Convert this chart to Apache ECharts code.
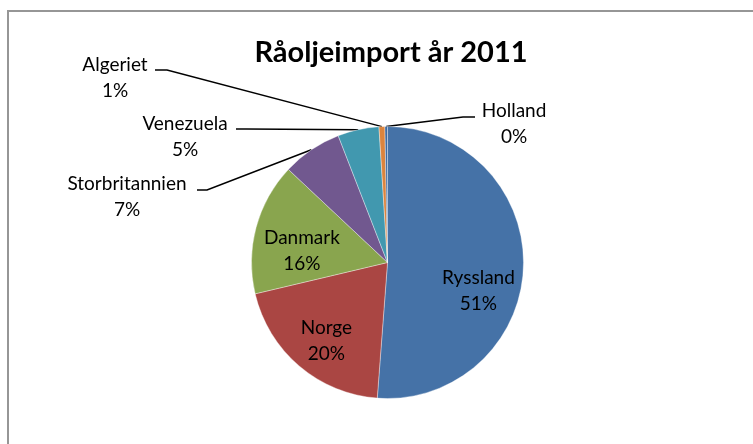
<!DOCTYPE html>
<html>
<head>
<meta charset="utf-8">
<script src="https://cdn.jsdelivr.net/npm/echarts@6/dist/echarts.min.js"></script>
<style>
  html, body { margin: 0; padding: 0; background: #fff; }
  #frame { position: absolute; left: 7px; top: 10px; width: 800px; height: 500px;
           border: 2px solid #969696; box-sizing: border-box; }
  #chart { position: absolute; left: 0; top: 0; width: 753px; height: 444px; }
</style>
</head>
<body>
<div id="frame"></div>
<div id="chart"></div>
<script>
// Råoljeimport 2011, andelar i procent
const countries = ['Ryssland', 'Norge', 'Danmark', 'Storbritannien', 'Venezuela', 'Algeriet', 'Holland'];
const shares = [51.2, 20.1, 15.7, 7.1, 4.9, 0.7, 0.3];
const colors = ['#4572A7', '#AA4643', '#89A54E', '#71588F', '#4198AF', '#DB843D', '#3D6AA0'];

// etiketter inne i sektorn: förskjutning från standardläget
const insideOffset = {
  Ryssland: [20, 26],
  Norge: [-15, 24],
  Danmark: [-17, 7]
};

// etiketter utanför: textens mitt och knäpunkt på hänvisningslinjen
const outsideSpot = {
  Holland: { text: [514, 124], bend: [463, 117], end: [475, 117] },
  Algeriet: { text: [115, 78], bend: [167, 70], end: [155, 70] },
  Venezuela: { text: [185, 137], bend: [246, 129], end: [236, 129] },
  Storbritannien: { text: [127, 197], bend: [207, 190], end: [197, 190] }
};

const font = 'Lato, "Open Sans", sans-serif';

const chart = echarts.init(document.getElementById('chart'));

const pieData = countries.map((name, i) => {
  const item = { name: name, value: shares[i], itemStyle: { color: colors[i] } };
  if (insideOffset[name]) {
    item.label = { position: 'inside', offset: insideOffset[name] };
    item.labelLine = { show: false };
  } else {
    item.label = { position: 'outside' };
    item.labelLine = { show: true };
  }
  return item;
});

chart.setOption({
  animation: false,
  title: {
    text: 'Råoljeimport år 2011',
    left: 386,
    top: 33,
    textAlign: 'center',
    textStyle: { fontFamily: font, fontWeight: 'bold', fontSize: 29, color: '#000' }
  },
  series: [{
    type: 'pie',
    center: [387.5, 262.5],
    radius: 136,
    startAngle: 90,
    clockwise: true,
    avoidLabelOverlap: false,
    itemStyle: { borderColor: 'rgba(255,255,255,0.6)', borderWidth: 0.6 },
    label: {
      color: '#000',
      fontFamily: font,
      fontSize: 19,
      lineHeight: 26,
      align: 'center',
      formatter: p => p.name + '\n' + Math.round(p.percent) + '%'
    },
    labelLine: {
      lineStyle: { color: '#000', width: 1.5 },
      length: 10,
      length2: 10
    },
    labelLayout: function (params) {
      const spot = outsideSpot[countries[params.dataIndex]];
      if (!spot || !params.labelLinePoints) return {};
      const start = params.labelLinePoints[0];
      return {
        x: spot.text[0],
        y: spot.text[1],
        align: 'center',
        verticalAlign: 'middle',
        labelLinePoints: [start, spot.bend, spot.end]
      };
    },
    data: pieData
  }]
});
</script>
</body>
</html>
